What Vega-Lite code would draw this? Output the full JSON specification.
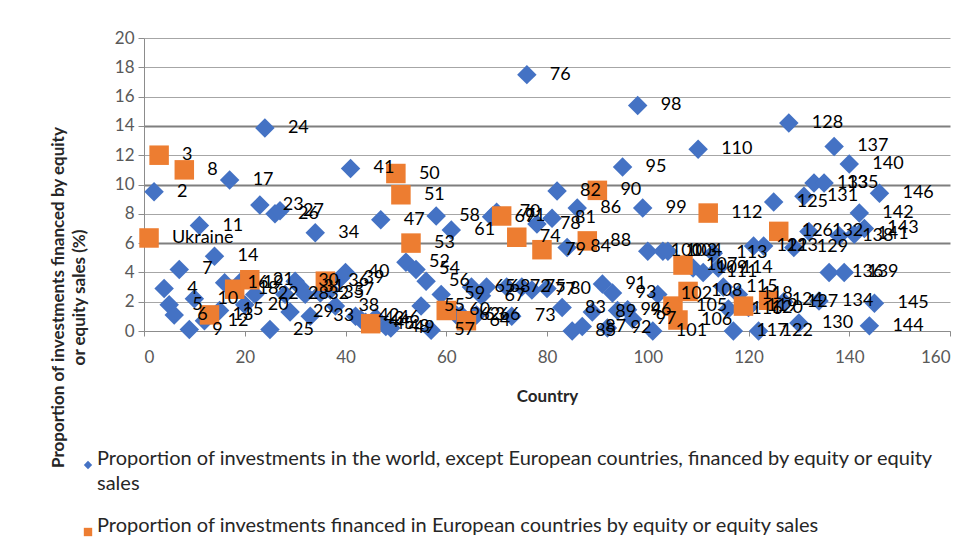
{
  "$schema": "https://vega.github.io/schema/vega-lite/v6.json",
  "width": 806,
  "height": 293,
  "autosize": {"type": "none"},
  "padding": {"left": 144, "top": 38, "right": 29, "bottom": 225},
  "background": "white",
  "config": {
    "font": "Lato",
    "view": {"stroke": null},
    "axis": {"labelFont": "Lato", "titleFont": "Lato"},
    "style": {"guide-label": {"lineHeight": 25}}
  },
  "data": {"values": [
    {"c":2,"v":9.5,"s":"B","lab":"2"},
    {"c":4,"v":2.9,"s":"B","lab":"4"},
    {"c":5,"v":1.8,"s":"B","lab":"5"},
    {"c":6,"v":1.1,"s":"B","lab":"6"},
    {"c":7,"v":4.2,"s":"B","lab":"7"},
    {"c":9,"v":0.1,"s":"B","lab":"9"},
    {"c":10,"v":2.2,"s":"B","lab":"10"},
    {"c":11,"v":7.2,"s":"B","lab":"11"},
    {"c":12,"v":0.7,"s":"B","lab":"12"},
    {"c":14,"v":5.1,"s":"B","lab":"14"},
    {"c":15,"v":1.4,"s":"B","lab":"15"},
    {"c":16,"v":3.3,"s":"B","lab":"16"},
    {"c":17,"v":10.3,"s":"B","lab":"17"},
    {"c":19,"v":3.3,"s":"B","lab":"19"},
    {"c":20,"v":1.8,"s":"B","lab":"20"},
    {"c":22,"v":2.5,"s":"B","lab":"22"},
    {"c":23,"v":8.6,"s":"B","lab":"23"},
    {"c":24,"v":13.85,"s":"B","lab":"24"},
    {"c":25,"v":0.1,"s":"B","lab":"25"},
    {"c":26,"v":8.0,"s":"B","lab":"26"},
    {"c":27,"v":8.2,"s":"B","lab":"27"},
    {"c":28,"v":2.5,"s":"B","lab":"28"},
    {"c":29,"v":1.3,"s":"B","lab":"29"},
    {"c":30,"v":3.4,"s":"B","lab":"30"},
    {"c":31,"v":3.0,"s":"B","lab":"31"},
    {"c":32,"v":2.5,"s":"B","lab":"32"},
    {"c":33,"v":1.0,"s":"B","lab":"33"},
    {"c":34,"v":6.7,"s":"B","lab":"34"},
    {"c":35,"v":2.6,"s":"B","lab":"35"},
    {"c":37,"v":2.8,"s":"B","lab":"37"},
    {"c":38,"v":1.7,"s":"B","lab":"38"},
    {"c":39,"v":3.6,"s":"B","lab":"39"},
    {"c":40,"v":4.0,"s":"B","lab":"40"},
    {"c":41,"v":11.1,"s":"B","lab":"41"},
    {"c":42,"v":1.0,"s":"B","lab":"42"},
    {"c":43,"v":0.8,"s":"B","lab":"43"},
    {"c":44,"v":0.6,"s":"B","lab":"44"},
    {"c":46,"v":0.9,"s":"B","lab":"46"},
    {"c":47,"v":7.6,"s":"B","lab":"47"},
    {"c":48,"v":0.3,"s":"B","lab":"48"},
    {"c":49,"v":0.2,"s":"B","lab":"49"},
    {"c":52,"v":4.7,"s":"B","lab":"52"},
    {"c":54,"v":4.2,"s":"B","lab":"54"},
    {"c":55,"v":1.7,"s":"B","lab":"55"},
    {"c":56,"v":3.4,"s":"B","lab":"56"},
    {"c":57,"v":0.05,"s":"B","lab":"57"},
    {"c":58,"v":7.85,"s":"B","lab":"58"},
    {"c":59,"v":2.5,"s":"B","lab":"59"},
    {"c":61,"v":6.9,"s":"B","lab":"61"},
    {"c":62,"v":1.1,"s":"B","lab":"62"},
    {"c":63,"v":1.1,"s":"B","lab":"63"},
    {"c":65,"v":3.0,"s":"B","lab":"65"},
    {"c":66,"v":1.1,"s":"B","lab":"66"},
    {"c":67,"v":2.4,"s":"B","lab":"67"},
    {"c":68,"v":3.0,"s":"B","lab":"68"},
    {"c":69,"v":7.8,"s":"B","lab":"69"},
    {"c":70,"v":8.1,"s":"B","lab":"70"},
    {"c":72,"v":3.0,"s":"B","lab":"72"},
    {"c":73,"v":1.0,"s":"B","lab":"73"},
    {"c":75,"v":3.0,"s":"B","lab":"75"},
    {"c":76,"v":17.5,"s":"B","lab":"76"},
    {"c":77,"v":2.8,"s":"B","lab":"77"},
    {"c":78,"v":7.3,"s":"B","lab":"78"},
    {"c":80,"v":2.9,"s":"B","lab":"80"},
    {"c":81,"v":7.7,"s":"B","lab":"81"},
    {"c":82,"v":9.55,"s":"B","lab":"82"},
    {"c":83,"v":1.6,"s":"B","lab":"83"},
    {"c":84,"v":5.7,"s":"B","lab":"84"},
    {"c":85,"v":0.0,"s":"B","lab":"85"},
    {"c":86,"v":8.4,"s":"B","lab":"86"},
    {"c":87,"v":0.3,"s":"B","lab":"87"},
    {"c":89,"v":1.3,"s":"B","lab":"89"},
    {"c":91,"v":3.2,"s":"B","lab":"91"},
    {"c":92,"v":0.2,"s":"B","lab":"92"},
    {"c":93,"v":2.6,"s":"B","lab":"93"},
    {"c":94,"v":1.4,"s":"B","lab":"94"},
    {"c":95,"v":11.2,"s":"B","lab":"95"},
    {"c":96,"v":1.45,"s":"B","lab":"96"},
    {"c":97,"v":0.8,"s":"B","lab":"97"},
    {"c":98,"v":15.4,"s":"B","lab":"98"},
    {"c":99,"v":8.4,"s":"B","lab":"99"},
    {"c":100,"v":5.45,"s":"B","lab":"100"},
    {"c":101,"v":0.0,"s":"B","lab":"101"},
    {"c":102,"v":2.5,"s":"B","lab":"102"},
    {"c":103,"v":5.45,"s":"B","lab":"103"},
    {"c":104,"v":5.45,"s":"B","lab":"104"},
    {"c":109,"v":4.3,"s":"B","lab":"109"},
    {"c":110,"v":12.4,"s":"B","lab":"110"},
    {"c":111,"v":4.0,"s":"B","lab":"111"},
    {"c":113,"v":5.3,"s":"B","lab":"113"},
    {"c":114,"v":4.3,"s":"B","lab":"114"},
    {"c":115,"v":3.0,"s":"B","lab":"115"},
    {"c":116,"v":1.5,"s":"B","lab":"116"},
    {"c":117,"v":0.0,"s":"B","lab":"117"},
    {"c":118,"v":2.5,"s":"B","lab":"118"},
    {"c":120,"v":1.6,"s":"B","lab":"120"},
    {"c":121,"v":5.8,"s":"B","lab":"121"},
    {"c":122,"v":0.0,"s":"B","lab":"122"},
    {"c":123,"v":5.8,"s":"B","lab":"123"},
    {"c":125,"v":8.8,"s":"B","lab":"125"},
    {"c":127,"v":2.0,"s":"B","lab":"127"},
    {"c":128,"v":14.2,"s":"B","lab":"128"},
    {"c":129,"v":5.7,"s":"B","lab":"129"},
    {"c":130,"v":0.55,"s":"B","lab":"130"},
    {"c":131,"v":9.2,"s":"B","lab":"131"},
    {"c":132,"v":6.8,"s":"B","lab":"132"},
    {"c":133,"v":10.1,"s":"B","lab":"133"},
    {"c":134,"v":2.05,"s":"B","lab":"134"},
    {"c":135,"v":10.1,"s":"B","lab":"135"},
    {"c":136,"v":4.0,"s":"B","lab":"136"},
    {"c":137,"v":12.6,"s":"B","lab":"137"},
    {"c":138,"v":6.5,"s":"B","lab":"138"},
    {"c":139,"v":4.0,"s":"B","lab":"139"},
    {"c":140,"v":11.4,"s":"B","lab":"140"},
    {"c":141,"v":6.6,"s":"B","lab":"141"},
    {"c":142,"v":8.05,"s":"B","lab":"142"},
    {"c":143,"v":7.0,"s":"B","lab":"143"},
    {"c":144,"v":0.35,"s":"B","lab":"144"},
    {"c":145,"v":1.9,"s":"B","lab":"145"},
    {"c":146,"v":9.4,"s":"B","lab":"146"},
    {"c":1,"v":6.35,"s":"O","lab":"Ukraine"},
    {"c":3,"v":12.0,"s":"O","lab":"3"},
    {"c":8,"v":11.0,"s":"O","lab":"8"},
    {"c":13,"v":1.1,"s":"O","lab":"13"},
    {"c":18,"v":2.85,"s":"O","lab":"18"},
    {"c":21,"v":3.5,"s":"O","lab":"21"},
    {"c":36,"v":3.4,"s":"O","lab":"36"},
    {"c":45,"v":0.5,"s":"O","lab":"45"},
    {"c":50,"v":10.75,"s":"O","lab":"50"},
    {"c":51,"v":9.3,"s":"O","lab":"51"},
    {"c":53,"v":6.0,"s":"O","lab":"53"},
    {"c":60,"v":1.4,"s":"O","lab":"60"},
    {"c":64,"v":0.7,"s":"O","lab":"64"},
    {"c":71,"v":7.85,"s":"O","lab":"71"},
    {"c":74,"v":6.4,"s":"O","lab":"74"},
    {"c":79,"v":5.55,"s":"O","lab":"79"},
    {"c":88,"v":6.15,"s":"O","lab":"88"},
    {"c":90,"v":9.6,"s":"O","lab":"90"},
    {"c":105,"v":1.7,"s":"O","lab":"105"},
    {"c":106,"v":0.75,"s":"O","lab":"106"},
    {"c":107,"v":4.5,"s":"O","lab":"107"},
    {"c":108,"v":2.7,"s":"O","lab":"108"},
    {"c":112,"v":8.05,"s":"O","lab":"112"},
    {"c":119,"v":1.7,"s":"O","lab":"119"},
    {"c":124,"v":2.1,"s":"O","lab":"124"},
    {"c":126,"v":6.8,"s":"O","lab":"126"}
  ]},
  "encoding": {
    "x": {
      "field": "c", "type": "quantitative",
      "scale": {"domain": [0, 160], "nice": false, "zero": false},
      "axis": {
        "values": [0, 20, 40, 60, 80, 100, 120, 140, 160],
        "grid": false,
        "domainColor": "#8c8c8c", "tickColor": "#8c8c8c", "tickSize": 5,
        "labelFontSize": 17, "labelColor": "#595959", "labelPadding": 13,
        "title": "Country", "titleFontSize": 17, "titleFontWeight": "bold",
        "titleColor": "#262626", "titlePadding": 23
      }
    },
    "y": {
      "field": "v", "type": "quantitative",
      "scale": {"domain": [0, 20], "nice": false},
      "axis": {
        "values": [0, 2, 4, 6, 8, 10, 12, 14, 16, 18, 20],
        "grid": true,
        "gridColor": {"condition": {"test": "datum.value == 6 || datum.value == 10 || datum.value == 14", "value": "#7f7f7f"}, "value": "#a6a6a6"},
        "gridWidth": {"condition": {"test": "datum.value == 6 || datum.value == 10 || datum.value == 14", "value": 2}, "value": 1},
        "domainColor": "#8c8c8c", "tickColor": "#8c8c8c", "tickSize": 6,
        "labelFontSize": 17, "labelColor": "#595959", "labelPadding": 4,
        "title": ["Proportion of investments financed by equity", "or equity sales (%)"],
        "titleFontSize": 17, "titleFontWeight": "bold", "titleColor": "#262626",
        "titleLineHeight": 21, "titleAngle": -90, "titleAlign": "center",
        "titleBaseline": "middle", "titleX": -86, "titleY": 259
      }
    }
  },
  "layer": [
    {
      "mark": {"type": "point", "filled": true, "opacity": 1, "size": 380, "strokeWidth": 0},
      "encoding": {
        "shape": {
          "field": "s", "type": "nominal",
          "scale": {"domain": ["B", "O"], "range": ["diamond", "square"]},
          "legend": null
        },
        "color": {
          "field": "s", "type": "nominal",
          "scale": {"domain": ["B", "O"], "range": ["#4472C4", "#ED7D31"]},
          "legend": {
            "title": null,
            "orient": "none",
            "legendX": -66,
            "legendY": 417,
            "direction": "vertical",
            "symbolType": "diamond",
            "symbolSize": 70,
            "labelFontSize": 20,
            "labelFont": "Lato",
            "labelColor": "#262626",
            "labelLimit": 950,
            "labelBaseline": "alphabetic",
            "labelOffset": -1,
            "rowPadding": 22,
            "padding": 0,
            "labelExpr": "datum.value == 'B' ? ['Proportion of investments in the world, except European countries, financed by equity or equity', 'sales'] : 'Proportion of investments financed in European countries by equity or equity sales'"
          }
        }
      }
    },
    {
      "mark": {"type": "text", "align": "left", "baseline": "middle", "dx": 23, "fontSize": 18, "font": "Lato", "color": "#000000"},
      "encoding": {"text": {"field": "lab"}}
    }
  ]
}
